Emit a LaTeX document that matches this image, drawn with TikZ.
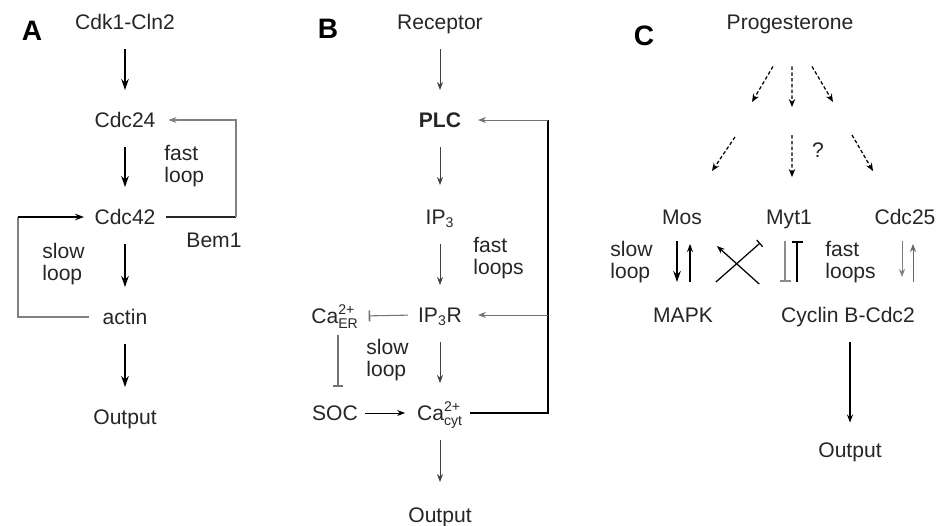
\documentclass[tikz,border=0pt]{standalone}
\usepackage{amsmath}
\usepackage{fontspec}
\setmainfont{Liberation Sans}
\usetikzlibrary{arrows.meta}
\tikzset{
    lbl/.style={font=\fontsize{12}{14}\selectfont, text=black!85, inner sep=1.5pt, text height=10.5pt, text depth=2pt},
    panel/.style={font=\bfseries\fontsize{16}{18}\selectfont, inner sep=0pt},
    looptext/.style={font=\fontsize{12}{12.5}\selectfont, text=black!85, align=left, inner sep=0pt, anchor=west},
    vgap/.style={shorten <=0.27cm, shorten >=0.32cm},
    act/.style={-{Stealth[length=2.2mm, width=1.5mm]}, line width=1pt},
    fine/.style={-{Stealth[length=1.6mm, width=1.2mm]}, line width=0.55pt, black!75},
    fb/.style={line width=0.6pt, black!50},
    inh/.style={-{Bar[width=2.2mm, line width=0.9pt]}, line width=0.6pt, black!55},
    dashact/.style={-{Stealth[length=1.6mm, width=1.3mm]}, line width=0.7pt, dash pattern=on 2pt off 1.3pt}
}

\begin{document}
\begin{tikzpicture}[x=0.02cm, y=-0.02cm]
\useasboundingbox (0,0) rectangle (948,525);

% A: polarity in yeast
\node[panel] (labA) at (32,31) {A};
\node[lbl] (cdk) at (125,22) {Cdk1-Cln2};
\node[lbl] (cdc24) at (125,120) {Cdc24};
\node[lbl] (cdc42) at (125,217) {Cdc42};
\node[lbl] (actin) at (125,317) {actin};
\node[lbl] (outA) at (125,417) {Output};
\node[lbl] (bem) at (214,240) {Bem1};
\node[looptext] (fastA) at (164,166) {fast\\loop};
\node[looptext] (slowA) at (42,264) {slow\\loop};
\coordinate (afast) at (236,217);
\coordinate (aslow) at (18,217);

\draw[act, vgap] (cdk) -- (cdc24);
\draw[act, vgap] (cdc24) -- (cdc42);
\draw[act, vgap] (cdc42) -- (actin);
\draw[act, vgap] (actin) -- (outA);
\draw[line width=0.8pt, black!85, shorten <=0.15cm] (cdc42.east) -- (afast);
\draw[fb, -{Stealth[length=1.6mm, width=1.2mm]}, shorten >=0.2cm] (afast) |- (cdc24.east);
\draw[fb, shorten <=0.22cm] (actin.west) -| (aslow);
\draw[line width=0.8pt, -{Stealth[length=1.8mm, width=1.3mm]}, shorten >=0.15cm] (aslow) -- (cdc42.west);

% B: calcium signalling
\node[panel] (labB) at (328,29) {B};
\node[lbl] (rec) at (440,22) {Receptor};
\node[lbl, font=\bfseries\fontsize{12}{14}\selectfont] (plc) at (440,120) {PLC};
\node[lbl] (ip3) at (440,217) {IP\textsubscript{3}};
\node[lbl] (ip3r) at (440,315) {IP\textsubscript{3}R};
\node[lbl] (cacyt) at (440,413) {$\text{Ca}^{\text{2+}}_{\text{cyt}}$};
\node[lbl] (outB) at (440,515) {Output};
\node[lbl] (caer) at (335,316) {$\text{Ca}^{\text{2+}}_{\text{ER}}$};
\node[lbl] (soc) at (335,413) {SOC};
\node[looptext] (fastB) at (473,258) {fast\\loops};
\node[looptext] (slowB) at (366,360) {slow\\loop};
\coordinate (btop) at (548,120);
\coordinate (bmid) at (548,315);

\draw[fine, vgap] (rec) -- (plc);
\draw[fine, vgap, shorten >=0.36cm] (plc) -- (ip3);
\draw[fine, vgap] (ip3) -- (ip3r);
\draw[fine, vgap] (ip3r) -- (cacyt);
\draw[fine, vgap, shorten >=0.38cm] (cacyt) -- (outB);
\draw[line width=1.4pt, shorten <=0.08cm] (cacyt.east) -| (btop);
\draw[fine, black!55, shorten >=0.28cm] (btop) -- (plc.east);
\draw[fine, black!55, shorten >=0.26cm] (bmid) -- (ip3r.east);
\draw[inh, shorten <=0.14cm, shorten >=0.14cm] (ip3r.west) -- (caer.east);
\draw[inh, shorten <=0.1cm, shorten >=0.25cm] ([xshift=0.06cm]caer.south) -- ([xshift=0.06cm]caer.south |- soc.north);
\draw[fine, black, shorten <=0.09cm, shorten >=0.18cm] (soc.east) -- (cacyt.west);

% C: oocyte maturation
\node[panel] (labC) at (644,36) {C};
\node[lbl] (prog) at (790,22) {Progesterone};
\node[lbl] (mos) at (682,217) {Mos};
\node[lbl] (myt) at (789,217) {Myt1};
\node[lbl] (cdc25) at (905,217) {Cdc25};
\node[lbl] (mapk) at (683,315) {MAPK};
\node[lbl] (cyc) at (848,315) {Cyclin B-Cdc2};
\node[lbl] (outC) at (850,450) {Output};
\node[lbl] (qm) at (818,150) {?};
\node[looptext] (slowC) at (610,262) {slow\\loop};
\node[looptext] (fastC) at (825,262) {fast\\loops};
\coordinate (dl) at (752,102);
\coordinate (dm) at (792,107);
\coordinate (dr) at (833,102);
\coordinate (el) at (735,137);
\coordinate (em) at (792,135);
\coordinate (er) at (852,135);

\draw[dashact] ([shift={(-0.34cm,-0.61cm)}]prog.south) -- (dl);
\draw[dashact] ([shift={(0.04cm,-0.61cm)}]prog.south) -- (dm);
\draw[dashact] ([shift={(0.44cm,-0.61cm)}]prog.south) -- (dr);
\draw[dashact] (el) -- ([shift={(0.6cm,0.64cm)}]mos.north);
\draw[dashact] (em) -- ([shift={(0.06cm,0.52cm)}]myt.north);
\draw[dashact] (er) -- ([shift={(-0.64cm,0.64cm)}]cdc25.north);

\draw[act, line width=1pt, shorten <=0.2cm, shorten >=0.38cm] ([xshift=-0.1cm]mos.south) -- ([xshift=-0.1cm]mos.south |- mapk.north);
\draw[fine, black, line width=0.7pt, shorten <=0.38cm, shorten >=0.26cm] ([xshift=0.16cm]mos.south |- mapk.north) -- ([xshift=0.16cm]mos.south);
\draw[fine, black, line width=0.7pt] ([shift={(-0.38cm,0.34cm)}]cyc.north west) -- ([shift={(0.24cm,-0.3cm)}]mos.south east);
\draw[inh, black, line width=0.7pt, -{Bar[width=1.8mm, line width=0.7pt]}] ([yshift=0.38cm]mapk.north east) -- ([shift={(-0.06cm,-0.24cm)}]myt.south west);
\draw[inh, black!45, shorten <=0.2cm, shorten >=0.38cm] ([xshift=-0.08cm]myt.south) -- ([xshift=-0.08cm]myt.south |- cyc.north);
\draw[inh, black, line width=1.3pt, -{Bar[width=2.2mm, line width=1.3pt]}, shorten <=0.38cm, shorten >=0.2cm] ([xshift=0.16cm]myt.south |- cyc.north) -- ([xshift=0.16cm]myt.south);
\draw[fine, black!50, shorten <=0.2cm, shorten >=0.48cm] ([xshift=-0.06cm]cdc25.south) -- ([xshift=-0.06cm]cdc25.south |- cyc.north);
\draw[fine, black!60, shorten <=0.38cm, shorten >=0.26cm] ([xshift=0.16cm]cdc25.south |- cyc.north) -- ([xshift=0.16cm]cdc25.south);
\draw[fine, black, line width=0.7pt, shorten <=0.27cm, shorten >=0.27cm] (outC.north |- cyc.south) -- (outC.north);
\end{tikzpicture}
\end{document}
